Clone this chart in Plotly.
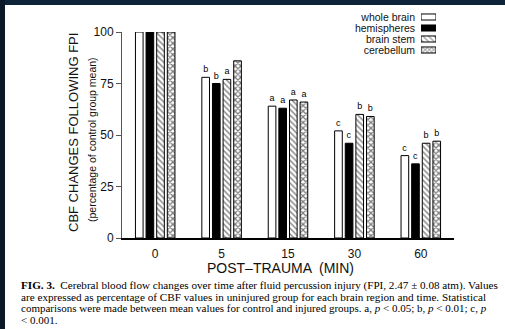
import plotly.graph_objects as go

# ---- data ----
categories = ["0", "5", "15", "30", "60"]
series_names = ["whole brain", "hemispheres", "brain stem", "cerebellum"]
whole_brain = [100, 78, 64, 52, 40]
hemispheres = [100, 75, 63, 46, 36]
brain_stem = [100, 77, 67, 60, 46]
cerebellum = [100, 86, 66, 59, 47]
sig_whole = ["", "b", "a", "c", "c"]
sig_hemi = ["", "b", "a", "c", "c"]
sig_stem = ["", "a", "a", "b", "b"]
sig_cere = ["", "", "a", "b", "b"]
y_ticks = [0, 25, 50, 75, 100]

caption_lines = [
    "<b>FIG. 3.</b>  Cerebral blood flow changes over time after fluid percussion injury (FPI, 2.47 ± 0.08 atm). Values",
    "are expressed as percentage of CBF values in uninjured group for each brain region and time. Statistical",
    "comparisons were made between mean values for control and injured groups. a, <i>p</i> < 0.05; b, <i>p</i> < 0.01; c, <i>p</i>",
    "< 0.001.",
]
caption_sizes = [11.15, 11.2, 11.0, 11.0]

W, H = 505, 329
L, R, T, B = 122, 454, 5, 238  # plot-area pixel box


def fx(px):
    return (px - L) / (R - L)


def fy(py):
    return (B - py) / (B - T)


SANS = "Liberation Sans"
SERIF = "Liberation Serif"

styles = [
    dict(color="white", pattern=dict(shape="")),
    dict(color="black", pattern=dict(shape="")),
    dict(color="white", pattern=dict(shape="\\", fgcolor="black", bgcolor="white", size=4, solidity=0.35)),
    dict(color="white", pattern=dict(shape="x", fgcolor="black", bgcolor="white", size=4, solidity=0.55)),
]
values = [whole_brain, hemispheres, brain_stem, cerebellum]
sigs = [sig_whole, sig_hemi, sig_stem, sig_cere]

fig = go.Figure()
for name, vals, sig, st in zip(series_names, values, sigs, styles):
    fig.add_trace(go.Bar(
        x=categories, y=vals, name=name, text=sig,
        textposition="outside", constraintext="none", cliponaxis=False,
        textfont=dict(family=SANS, size=9, color="black"),
        marker=dict(color=st["color"], pattern=st["pattern"],
                    line=dict(color="black", width=1)),
        showlegend=False, xaxis="x", yaxis="y",
    ))

# legend drawn as a small bar chart (labels left, swatches right)
fig.add_trace(go.Bar(
    y=series_names, x=[1, 1, 1, 1], orientation="h", width=0.55,
    marker=dict(color=[s["color"] for s in styles],
                pattern=dict(shape=["", "", "\\", "x"], fgcolor="black", bgcolor="white",
                             size=[4, 4, 4, 3], solidity=[0.35, 0.35, 0.35, 0.55]),
                line=dict(color="black", width=1)),
    showlegend=False, xaxis="x2", yaxis="y2", hoverinfo="skip",
))

annotations = [
    dict(text="CBF CHANGES FOLLOWING FPI", textangle=-90, x=fx(73), y=fy(133),
         xanchor="center", yanchor="middle",
         xref="paper", yref="paper", showarrow=False, font=dict(family=SANS, size=13, color="#111")),
    dict(text="(percentage of control group mean)", textangle=-90, x=fx(92), y=fy(140),
         xanchor="center", yanchor="middle",
         xref="paper", yref="paper", showarrow=False, font=dict(family=SANS, size=10.5, color="#111")),
    dict(text="POST–TRAUMA  (MIN)", x=fx(280), y=fy(268), xanchor="center", yanchor="middle",
         xref="paper", yref="paper", showarrow=False, font=dict(family=SANS, size=14, color="#111")),
]
cap_y = [285, 297, 308, 320]
for line, py, fs in zip(caption_lines, cap_y, caption_sizes):
    annotations.append(dict(text=line, x=fx(19), y=fy(py), xanchor="left", yanchor="middle",
                            xref="paper", yref="paper", showarrow=False,
                            font=dict(family=SERIF, size=fs, color="black")))

shapes = [
    dict(type="rect", xref="paper", yref="paper", x0=fx(0), x1=fx(W), y0=fy(0), y1=fy(5),
         fillcolor="#0e2238", line=dict(width=0), layer="below"),
    dict(type="rect", xref="paper", yref="paper", x0=fx(0), x1=fx(5), y0=fy(0), y1=fy(H),
         fillcolor="#0b1828", line=dict(width=0), layer="below"),
]

fig.update_layout(
    width=W, height=H,
    margin=dict(l=L, r=W - R, t=T, b=H - B, pad=0, autoexpand=False),
    paper_bgcolor="white", plot_bgcolor="rgba(0,0,0,0)",
    barmode="group", bargap=0.36, bargroupgap=0.28,
    font=dict(family=SANS, color="#111"),
    xaxis=dict(type="category", range=[-0.5, 4.5], showline=True, linecolor="black", linewidth=1.5,
               ticks="outside", ticklen=4, tickcolor="rgba(0,0,0,0)", showgrid=False, automargin=False,
               tickfont=dict(family=SANS, size=12, color="#111"), zeroline=False),
    yaxis=dict(domain=[0, fy(32)], range=[0, 100], tickvals=y_ticks, showline=True, automargin=False,
               linecolor="#555", linewidth=1, ticks="outside", ticklen=5, tickcolor="#555",
               showgrid=False, zeroline=False, tickfont=dict(family=SANS, size=12, color="#111")),
    xaxis2=dict(domain=[fx(421), fx(436)], range=[0, 1], showticklabels=False, showline=False,
                showgrid=False, zeroline=False, ticks="", anchor="y2", automargin=False),
    yaxis2=dict(domain=[fy(55.5), fy(11.5)], type="category", autorange="reversed", anchor="x2",
                tickmode="array", tickvals=series_names, automargin=False,
                showline=False, ticks="", showgrid=False, zeroline=False, ticklabelstandoff=5,
                tickfont=dict(family=SANS, size=10.5, color="#111")),
    annotations=annotations, shapes=shapes,
)

fig.write_html("out.html")
